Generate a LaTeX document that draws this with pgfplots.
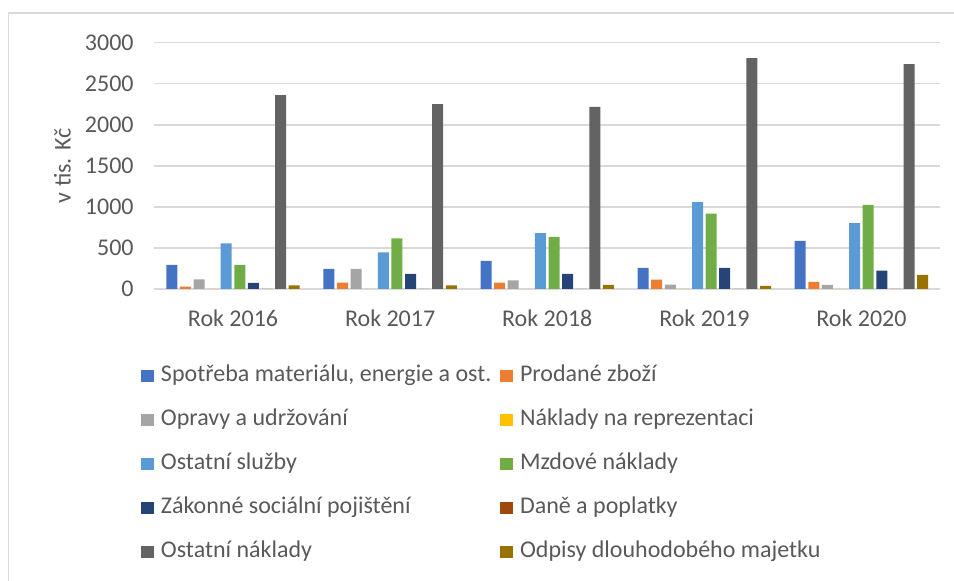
\documentclass[border=0pt]{standalone}
\usepackage{fontspec}
\setmainfont{Carlito}
\usepackage{pgfplots}
\pgfplotsset{compat=1.18}
\definecolor{c1}{HTML}{4472C4}
\definecolor{c2}{HTML}{ED7D31}
\definecolor{c3}{HTML}{A5A5A5}
\definecolor{c4}{HTML}{FFC000}
\definecolor{c5}{HTML}{5B9BD5}
\definecolor{c6}{HTML}{70AD47}
\definecolor{c7}{HTML}{264478}
\definecolor{c8}{HTML}{9E480E}
\definecolor{c9}{HTML}{636363}
\definecolor{c10}{HTML}{997300}
\definecolor{txt}{HTML}{595959}
\definecolor{gridc}{HTML}{D9D9D9}
\begin{document}
\begin{tikzpicture}[font=\fontsize{12}{14.4}\selectfont]
\useasboundingbox (0,0) rectangle (477pt,290.5pt);
\draw[gridc, line width=0.75pt] (4.25pt,0) -- (4.25pt,284pt) -- (477pt,284pt);
\begin{axis}[
  at={(77.25pt,146pt)}, anchor=south west,
  scale only axis, width=392.75pt, height=123.15pt,
  xmin=-0.5, xmax=4.5, ymin=0, ymax=3000,
  xtick={0,1,2,3,4},
  xticklabels={Rok 2016,Rok 2017,Rok 2018,Rok 2019,Rok 2020},
  ytick={0,500,...,3000},
  ymajorgrids, grid style={gridc, line width=0.75pt},
  axis line style={draw=none},
  major tick length=0pt,
  tick label style={text=txt},
  yticklabel style={xshift=-6.9pt},
  xticklabel style={yshift=-7pt},
  /pgf/number format/assume math mode=true,
  /pgf/number format/1000 sep={},
  ylabel={v tis. Kč},
  every axis y label/.style={at={(axis description cs:-0.1171,0.5)}, rotate=90, anchor=center, text=txt},
  ybar=1.3pt, bar width=5.5pt,
  every axis plot/.append style={draw=none},
  legend columns=2,
  legend cell align=left,
  legend image code/.code={\path[#1,draw=none] (0pt,-3.15pt) rectangle (6.3pt,3.15pt);},
  legend style={at={(axis description cs:-0.0172,-0.3065)}, anchor=north west,
    draw=none, fill=none, inner sep=0pt, text=txt,
    nodes={inner sep=0pt, text height=8.5pt, text depth=2.5pt},
    row sep=11pt,
    /tikz/every odd column/.append style={column sep=3.5pt},
    /tikz/every even column/.append style={column sep=4.5pt}},
]
\addplot[fill=c1] coordinates {(0,293) (1,244) (2,341) (3,258) (4,586)};
\addplot[fill=c2] coordinates {(0,28) (1,77) (2,77) (3,115) (4,86)};
\addplot[fill=c3] coordinates {(0,118) (1,244) (2,106) (3,53) (4,49)};
\addplot[fill=c4] coordinates {(0,0) (1,0) (2,0) (3,0) (4,0)};
\addplot[fill=c5] coordinates {(0,557) (1,447) (2,679) (3,1057) (4,803)};
\addplot[fill=c6] coordinates {(0,293) (1,618) (2,634) (3,918) (4,1025)};
\addplot[fill=c7] coordinates {(0,73) (1,183) (2,183) (3,258) (4,225)};
\addplot[fill=c8] coordinates {(0,0) (1,0) (2,0) (3,0) (4,0)};
\addplot[fill=c9] coordinates {(0,2360) (1,2252) (2,2218) (3,2812) (4,2738)};
\addplot[fill=c10] coordinates {(0,45) (1,45) (2,49) (3,37) (4,172)};
\legend{{Spotřeba materiálu, energie a ost.},Prodané zboží,Opravy a udržování,Náklady na reprezentaci,Ostatní služby,Mzdové náklady,Zákonné sociální pojištění,Daně a poplatky,Ostatní náklady,Odpisy dlouhodobého majetku}
\end{axis}
\end{tikzpicture}
\end{document}
